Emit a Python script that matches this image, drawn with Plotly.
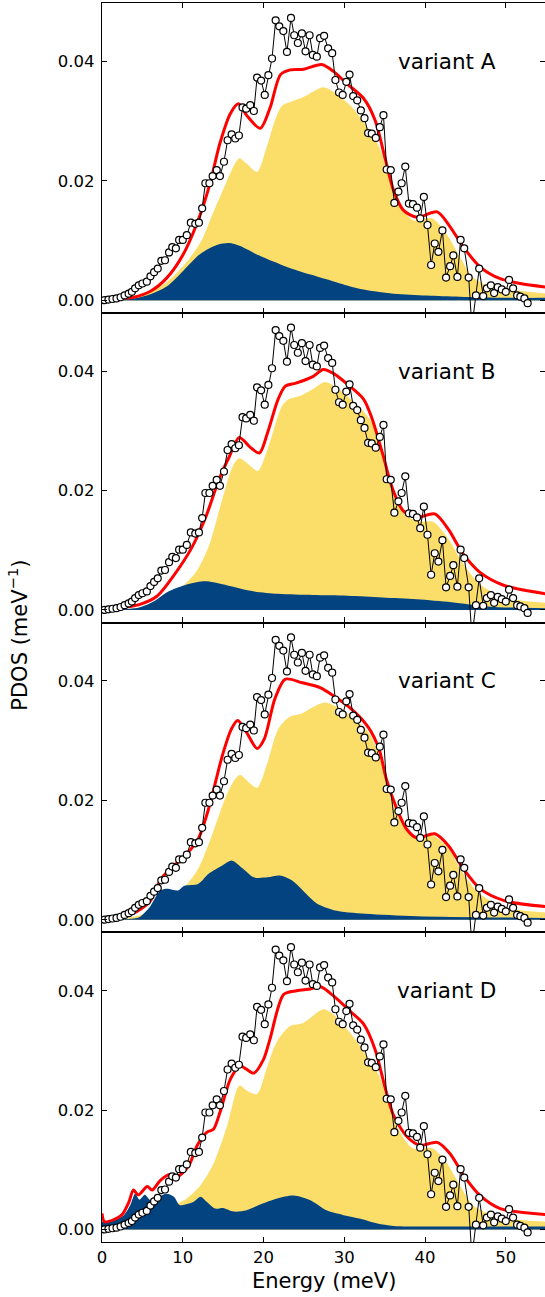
import plotly.graph_objects as go
from plotly.subplots import make_subplots

# ---- measured PDOS (same points in every panel) ----
exp_e = [0.30, 0.80, 1.30, 1.80, 2.30, 2.80, 3.30, 3.70, 4.10,
         4.55, 5.00, 5.55, 6.00, 6.45, 6.90, 7.35, 7.80, 8.30, 8.70, 9.15, 9.55,
         10.00, 10.50, 11.00, 11.55, 12.00, 12.40, 12.80, 13.30, 13.70, 14.20, 14.60,
         15.10, 15.55, 16.05, 16.50, 16.95, 17.40, 17.85, 18.35, 18.80, 19.20, 19.70,
         20.15, 20.60, 21.05, 21.50, 21.95, 22.45, 22.90, 23.40, 23.80, 24.25, 24.75,
         25.20, 25.70, 26.10, 26.60, 27.00, 27.50, 28.00, 28.50, 28.90, 29.35, 29.80,
         30.25, 30.65, 31.10, 31.60, 32.05, 32.50, 32.95, 33.40, 33.90, 34.40, 34.85,
         35.25, 35.75, 36.20, 36.70, 37.10, 37.55, 38.00, 38.50, 39.00, 39.40, 39.85,
         40.30, 40.75, 41.20, 41.65, 42.15, 42.60, 43.10, 43.50, 44.00, 44.40, 44.85,
         45.40, 45.80, 46.30, 46.70, 47.20, 47.65, 48.15, 48.55, 49.00, 49.50,
         50.00, 50.40, 50.90, 51.40, 51.80, 52.30, 52.70]
exp_v = [0.0000, 0.0001, 0.0002, 0.0003, 0.0005, 0.0008, 0.0011, 0.0014, 0.0020,
         0.0025, 0.0028, 0.0031, 0.0040, 0.0047, 0.0053, 0.0066, 0.0067, 0.0080, 0.0089, 0.0087, 0.0101,
         0.0101, 0.0109, 0.0130, 0.0128, 0.0130, 0.0154, 0.0196, 0.0196, 0.0208, 0.0218, 0.0208,
         0.0232, 0.0268, 0.0278, 0.0271, 0.0276, 0.0323, 0.0321, 0.0327, 0.0317, 0.0373, 0.0368,
         0.0344, 0.0377, 0.0405, 0.0469, 0.0459, 0.0451, 0.0416, 0.0473, 0.0444, 0.0431, 0.0447,
         0.0417, 0.0444, 0.0411, 0.0408, 0.0439, 0.0443, 0.0422, 0.0414, 0.0369, 0.0348, 0.0344,
         0.0366, 0.0378, 0.0342, 0.0335, 0.0318, 0.0305, 0.0280, 0.0279, 0.0272, 0.0290, 0.0310,
         0.0219, 0.0218, 0.0163, 0.0182, 0.0196, 0.0224, 0.0162, 0.0161, 0.0155, 0.0137, 0.0173,
         0.0126, 0.0059, 0.0095, 0.0081, 0.0117, 0.0038, 0.0057, 0.0075, 0.0039, 0.0101, 0.0087,
         0.0038, -0.0045, 0.0008, 0.0053, 0.0007, 0.0020, 0.0025, 0.0012, 0.0022, 0.0018,
         0.0014, 0.0034, 0.0020, 0.0008, 0.0006, 0.0003, -0.0005]

# ---- variant A ----
tot_a_e = [0, 2, 3.9, 6.0, 8.0, 10.1, 12.2, 13.4, 14.6, 15.9, 16.9, 17.9, 19.6, 20.8, 22.1, 23.3,
           24.95, 27.2, 28.7, 30.3, 32.4, 33.8, 35.1, 36.1, 37.3, 39.0, 41.5, 43.1, 44.75, 46.8,
           49.3, 51.8, 55]
tot_a = [0.0003, 0.0003, 0.0005, 0.0015, 0.0037, 0.0078, 0.0145, 0.0197, 0.0263, 0.0313, 0.0329,
         0.0310, 0.0288, 0.0322, 0.0378, 0.0386, 0.0387, 0.0395, 0.0383, 0.0363, 0.0338, 0.0302,
         0.0235, 0.0184, 0.0151, 0.0139, 0.0148, 0.0123, 0.0089, 0.0056, 0.0036, 0.0028, 0.0022]
yel_a_e = [0, 2, 4, 6, 8, 10.1, 12.2, 13.8, 15.5, 16.3, 17.0, 17.9, 19.2, 20.4, 21.5, 22.3, 23.3,
           25.0, 27.4, 28.7, 30.7, 32.8, 34.3, 35.7, 36.9, 38.5, 40.9, 42.6, 44.3, 45.9, 48.3,
           50.8, 55]
yel_a = [0, 0.0002, 0.0006, 0.0014, 0.0030, 0.0058, 0.0097, 0.0148, 0.0201, 0.0225, 0.0238,
         0.0229, 0.0215, 0.0257, 0.0305, 0.0326, 0.0332, 0.0341, 0.0357, 0.0349, 0.0327, 0.0291,
         0.0257, 0.0201, 0.0162, 0.0134, 0.0137, 0.0112, 0.0073, 0.0039, 0.0022, 0.0017, 0.0011]
blu_a_e = [0, 2, 4, 6, 8, 10.1, 12.2, 14.3, 15.7, 17.1, 19.6, 22.1, 23.7, 25.8, 27.8, 30, 32.0,
           36.1, 40.2, 44.3, 50, 55]
blu_a = [0, 0.0001, 0.0003, 0.0010, 0.0023, 0.0050, 0.0078, 0.0093, 0.0096, 0.0091, 0.0074,
         0.0060, 0.0052, 0.0043, 0.0035, 0.0026, 0.0019, 0.0011, 0.0008, 0.0006, 0.0004, 0.0004]

# ---- variant B ----
tot_b_e = [0, 2.3, 4.6, 6.8, 8.9, 11.1, 12.8, 14.5, 15.8, 17.0, 18.4, 19.5, 20.5, 21.8, 22.7, 24.0,
           26.1, 27.4, 28.7, 30.4, 32.4, 33.4, 34.7, 36.0, 37.3, 39.0, 41.2, 42.9, 44.6, 46.8,
           49.8, 55]
tot_b = [0.0003, 0.0004, 0.0009, 0.0023, 0.0058, 0.0104, 0.0154, 0.0219, 0.0258, 0.0289, 0.0272,
         0.0263, 0.0297, 0.0353, 0.0375, 0.0380, 0.0391, 0.0403, 0.0396, 0.0378, 0.0353, 0.0322,
         0.0264, 0.0202, 0.0166, 0.0155, 0.0161, 0.0135, 0.0096, 0.0063, 0.0041, 0.0027]
yel_b_e = [0, 2.3, 4.6, 6.8, 8.9, 11.5, 13.2, 14.9, 16.2, 17.0, 18.4, 19.3, 20.5, 22.3, 23.1, 24.4,
           26.1, 27.6, 29.1, 30.8, 32.5, 33.9, 35.2, 36.4, 37.7, 39.5, 41.0, 42.9, 44.6, 46.8,
           49.8, 55]
yel_b = [0, 0.0001, 0.0004, 0.0013, 0.0028, 0.0061, 0.0106, 0.0186, 0.0241, 0.0254, 0.0241,
         0.0233, 0.0269, 0.0342, 0.0353, 0.0358, 0.0370, 0.0382, 0.0372, 0.0353, 0.0331, 0.0303,
         0.0241, 0.0186, 0.0158, 0.0148, 0.0148, 0.0119, 0.0080, 0.0043, 0.0021, 0.0012]
blu_b_e = [0, 2.3, 4.6, 6.5, 8.1, 10.6, 12.8, 14.9, 18.4, 21.8, 26.1, 30.4, 34.7, 39.0, 43.3,
           47.6, 51, 55]
blu_b = [0, 0.0001, 0.0004, 0.0015, 0.0030, 0.0043, 0.0048, 0.0043, 0.0032, 0.0027, 0.0025,
         0.0024, 0.0021, 0.0018, 0.0013, 0.0006, 0.0004, 0.0003]

# ---- variant C ----
tot_c_e = [0, 2, 3.8, 5.9, 7.2, 8.5, 10.2, 11.9, 13.2, 14.9, 16.0, 16.8, 17.9, 19.2, 20.1, 21.4,
           22.7, 24.8, 27.0, 28.7, 30.9, 33.0, 34.3, 35.2, 36.5, 37.7, 39.0, 41.2, 42.9, 44.6,
           46.8, 49.8, 55]
tot_c = [0.0003, 0.0004, 0.0010, 0.0030, 0.0066, 0.0086, 0.0106, 0.0135, 0.0186, 0.0275, 0.0319,
         0.0334, 0.0314, 0.0287, 0.0303, 0.0370, 0.0403, 0.0397, 0.0389, 0.0375, 0.0353, 0.0322,
         0.0286, 0.0236, 0.0186, 0.0152, 0.0137, 0.0144, 0.0124, 0.0088, 0.0052, 0.0032, 0.0022]
yel_c_e = [0, 2.3, 4.6, 6.8, 8.9, 10.2, 11.9, 13.6, 15.4, 16.5, 17.1, 18.2, 19.2, 20.5, 21.8, 23.1,
           24.8, 26.1, 27.6, 29.6, 31.3, 33.0, 34.3, 35.4, 36.5, 37.7, 39.0, 41.0, 42.9, 44.6,
           46.8, 49.8, 55]
yel_c = [0, 0.0002, 0.0007, 0.0021, 0.0043, 0.0055, 0.0085, 0.0141, 0.0208, 0.0236, 0.0243,
         0.0230, 0.0221, 0.0264, 0.0319, 0.0339, 0.0346, 0.0356, 0.0364, 0.0353, 0.0336, 0.0314,
         0.0275, 0.0225, 0.0180, 0.0149, 0.0138, 0.0141, 0.0119, 0.0080, 0.0043, 0.0021, 0.0012]
blu_c_e = [0, 2.5, 4.0, 4.6, 5.9, 7.2, 8.1, 9.4, 10.2, 11.9, 13.2, 14.9, 16.1, 17.5, 18.8, 20.5,
           22.0, 23.5, 25.3, 26.6, 28.7, 32.6, 39.0, 55]
blu_c = [0, 0.0001, 0.0002, 0.0004, 0.0021, 0.0049, 0.0052, 0.0049, 0.0057, 0.0060, 0.0077,
         0.0091, 0.0099, 0.0085, 0.0071, 0.0071, 0.0074, 0.0066, 0.0043, 0.0027, 0.0016, 0.0010,
         0.0006, 0.0003]

# ---- variant D ----
tot_d_e = [0, 0.3, 1.4, 2.5, 3.3, 3.9, 4.5, 5.6, 6.2, 7.2, 8.4, 9.3, 10.0, 10.8, 11.8, 13.0, 13.8,
           14.6, 15.9, 17.1, 18.8, 20.0, 20.8, 22.5, 24.1, 25.8, 27.0, 28.7, 30.7, 32.4, 33.8,
           35.1, 36.1, 37.8, 39.4, 41.5, 43.1, 44.75, 46.8, 49.3, 55]
tot_d = [0.0027, 0.0013, 0.0016, 0.0025, 0.0045, 0.0066, 0.0058, 0.0072, 0.0066, 0.0082, 0.0092,
         0.0088, 0.0095, 0.0108, 0.0141, 0.0163, 0.0168, 0.0196, 0.0252, 0.0274, 0.0262, 0.0285,
         0.0319, 0.0394, 0.0400, 0.0403, 0.0407, 0.0391, 0.0366, 0.0344, 0.0302, 0.0235, 0.0191,
         0.0155, 0.0141, 0.0146, 0.0127, 0.0091, 0.0057, 0.0035, 0.0025]
yel_d_e = [0, 2, 4, 6, 8, 9.3, 10.5, 12.2, 13.8, 15.5, 17.0, 17.9, 19.2, 20.4, 21.3, 22.1, 23.3,
           24.9, 27.4, 28.7, 30.7, 32.8, 34.3, 35.7, 36.9, 38.5, 40.9, 42.6, 44.3, 45.9, 48.3,
           50.8, 55]
yel_d = [0, 0.0002, 0.0008, 0.0018, 0.0032, 0.0043, 0.0052, 0.0074, 0.0110, 0.0174, 0.0241,
         0.0233, 0.0227, 0.0270, 0.0305, 0.0324, 0.0341, 0.0346, 0.0369, 0.0360, 0.0330, 0.0291,
         0.0258, 0.0202, 0.0163, 0.0136, 0.0136, 0.0113, 0.0074, 0.0041, 0.0024, 0.0017, 0.0013]
blu_d_e = [0, 1.4, 2.7, 3.5, 4.1, 4.65, 5.3, 6.0, 7.0, 8.0, 8.9, 9.6, 10.3, 11.3, 12.2, 13.0, 14.0,
           15.0, 16.3, 17.9, 19.6, 21.7, 23.7, 25.8, 27.8, 29.9, 32.0, 34.1, 36.1, 44.3, 55]
blu_d = [0.0013, 0.0016, 0.0024, 0.0041, 0.0060, 0.0050, 0.0058, 0.0049, 0.0055, 0.0060, 0.0055,
         0.0041, 0.0042, 0.0046, 0.0055, 0.0046, 0.0035, 0.0036, 0.0030, 0.0032, 0.0042, 0.0052,
         0.0057, 0.0049, 0.0032, 0.0024, 0.0018, 0.0010, 0.0006, 0.0005, 0.0005]

panel_names = ["variant A", "variant B", "variant C", "variant D"]
panels = [
    (tot_a_e, tot_a, yel_a_e, yel_a, blu_a_e, blu_a),
    (tot_b_e, tot_b, yel_b_e, yel_b, blu_b_e, blu_b),
    (tot_c_e, tot_c, yel_c_e, yel_c, blu_c_e, blu_c),
    (tot_d_e, tot_d, yel_d_e, yel_d, blu_d_e, blu_d),
]

YELLOW = "#FBDE6A"
NAVY = "#034380"
RED = "#FF0000"
FONT = "DejaVu Sans"

fig = make_subplots(rows=4, cols=1, shared_xaxes=True, vertical_spacing=0)

for i, (te, tv, ye, yv, be, bv) in enumerate(panels):
    row = i + 1
    fig.add_trace(go.Scatter(x=ye, y=yv, mode="lines", fill="tozeroy", fillcolor=YELLOW,
                             line=dict(width=0, shape="spline", smoothing=0.8, color=YELLOW),
                             hoverinfo="skip", showlegend=False), row=row, col=1)
    fig.add_trace(go.Scatter(x=be, y=bv, mode="lines", fill="tozeroy", fillcolor=NAVY,
                             line=dict(width=0, shape="spline", smoothing=0.8, color=NAVY),
                             hoverinfo="skip", showlegend=False), row=row, col=1)
    fig.add_trace(go.Scatter(x=te, y=tv, mode="lines",
                             line=dict(width=3, shape="spline", smoothing=0.8, color=RED),
                             showlegend=False), row=row, col=1)
    fig.add_trace(go.Scatter(x=exp_e, y=exp_v, mode="lines+markers",
                             line=dict(width=1, color="black"),
                             marker=dict(symbol="circle", size=7, color="white",
                                         line=dict(width=1.2, color="black")),
                             cliponaxis=True, showlegend=False), row=row, col=1)
    fig.add_annotation(text=panel_names[i], x=42.7, y=0.0400, xref=f"x{row}" if row > 1 else "x",
                       yref=f"y{row}" if row > 1 else "y", showarrow=False,
                       xanchor="center", yanchor="middle",
                       font=dict(family=FONT, size=21.5, color="black"))

for row in range(1, 5):
    fig.update_xaxes(range=[0, 54.85], tickvals=[0, 10, 20, 30, 40, 50],
                     ticks="inside", ticklen=5, tickwidth=1, tickcolor="black",
                     showline=True, linecolor="black", linewidth=1.2, mirror="ticks",
                     showgrid=False, zeroline=False,
                     showticklabels=(row == 4),
                     tickfont=dict(family=FONT, size=16.5, color="black"),
                     row=row, col=1)
    fig.update_yaxes(range=[-0.0021, 0.0498], tickvals=[0, 0.02, 0.04], tickformat=".2f",
                     ticks="inside", ticklen=5, tickwidth=1, tickcolor="black",
                     showline=True, linecolor="black", linewidth=1.2, mirror="ticks",
                     showgrid=False, zeroline=True, zerolinecolor="#a9bccd", zerolinewidth=1,
                     tickfont=dict(family=FONT, size=16.5, color="black"),
                     ticklabelstandoff=3,
                     row=row, col=1)

fig.add_annotation(text="Energy (meV)", x=0.5, y=-0.0315, xref="paper", yref="paper",
                   showarrow=False, xanchor="center", yanchor="middle",
                   font=dict(family=FONT, size=21, color="black"))
fig.add_annotation(text="PDOS (meV<sup>\u22121</sup>)", x=-0.19, y=0.49, xref="paper", yref="paper",
                   showarrow=False, xanchor="center", yanchor="middle", textangle=-90,
                   font=dict(family=FONT, size=21, color="black"))

fig.update_layout(width=545, height=1297, margin=dict(l=102, r=0, t=3, b=55),
                  paper_bgcolor="white", plot_bgcolor="white",
                  font=dict(family=FONT, color="black"))

fig.write_html("out.html")
